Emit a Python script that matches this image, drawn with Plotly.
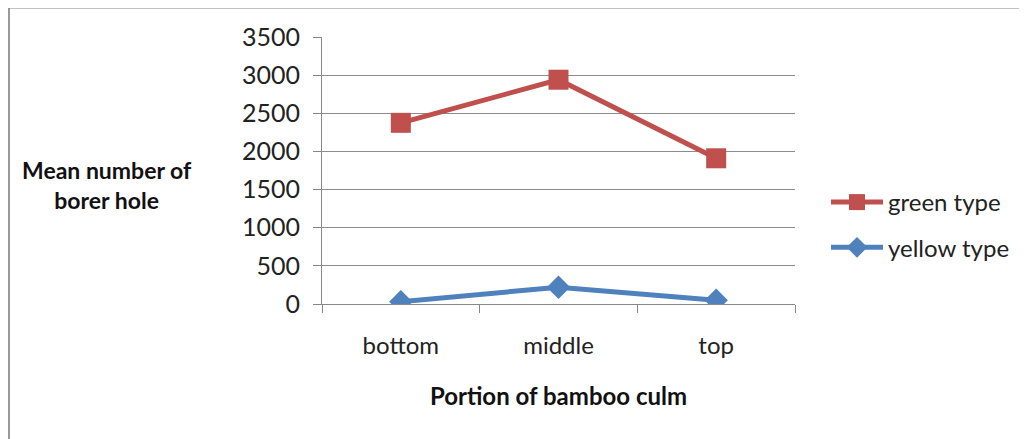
import plotly.graph_objects as go

categories = ["bottom", "middle", "top"]
green_type = [2375, 2940, 1910]
yellow_type = [30, 220, 50]
y_ticks = [0, 500, 1000, 1500, 2000, 2500, 3000, 3500]

FONT = "Lato"
OFF = 8  # page body margin
W, H = 1027, 439
# target plot-area pixel positions in the window
L, R, T, B = 322 - OFF, 795 - OFF, 37 - OFF, 304 - OFF

fig = go.Figure()
fig.add_trace(go.Scatter(
    x=categories, y=green_type, name="green type", mode="lines+markers",
    line=dict(color="#C0504D", width=5),
    marker=dict(symbol="square", size=20, color="#C0504D"),
    legendgroup="g",
))
fig.add_trace(go.Scatter(
    x=categories, y=yellow_type, name="yellow type", mode="lines+markers",
    line=dict(color="#4F81BD", width=5),
    marker=dict(symbol="diamond", size=18, color="#4F81BD"),
    legendgroup="y",
))

def px_x(px):
    return (px - OFF - L) / (R - L)

def px_y(py):
    return (B - (py - OFF)) / (B - T)

fig.update_layout(
    width=W, height=H,
    margin=dict(l=L, r=W - R, t=T, b=H - B, autoexpand=False),
    paper_bgcolor="white", plot_bgcolor="white",
    font=dict(family=FONT, size=24, color="#222"),
    showlegend=True,
    legend=dict(
        x=px_x(826), y=px_y(180), xanchor="left", yanchor="top",
        font=dict(family=FONT, size=24, color="#222"),
        itemwidth=52, tracegroupgap=11, bgcolor="rgba(0,0,0,0)",
    ),
    xaxis=dict(
        type="category", range=[-0.5, 2.5], showgrid=False, showline=True, linecolor="#888", linewidth=1,
        ticks="outside", tickson="boundaries", ticklen=8, tickcolor="#888",
        tickfont=dict(family=FONT, size=24, color="#222"),
        ticklabelstandoff=20,
        title=dict(text="<b>Portion of bamboo culm</b>", font=dict(family=FONT, size=24, color="#111"), standoff=30),
        fixedrange=True,
    ),
    yaxis=dict(
        range=[0, 3500], tickvals=y_ticks, showgrid=True, gridcolor="#8c8c8c", gridwidth=1,
        showline=True, linecolor="#888", linewidth=1, zeroline=False,
        ticks="outside", ticklen=8, tickcolor="#888",
        tickfont=dict(family=FONT, size=25, color="#222"),
        ticklabelstandoff=8,
        fixedrange=True,
    ),
    annotations=[dict(
        text="<b>Mean number of<br>borer hole</b>", xref="paper", yref="paper",
        x=px_x(107), y=px_y(185), xanchor="center", yanchor="middle",
        showarrow=False, font=dict(family=FONT, size=23, color="#111"), align="center",
    )],
    shapes=[
        dict(type="line", xref="paper", yref="paper", x0=px_x(9), x1=px_x(9), y0=px_y(7), y1=px_y(H + 20),
             line=dict(color="#999", width=2)),
        dict(type="line", xref="paper", yref="paper", x0=px_x(9), x1=px_x(W + 20), y0=px_y(7), y1=px_y(7),
             line=dict(color="#888", width=3)),
    ],
)

fig.write_html("out.html")
